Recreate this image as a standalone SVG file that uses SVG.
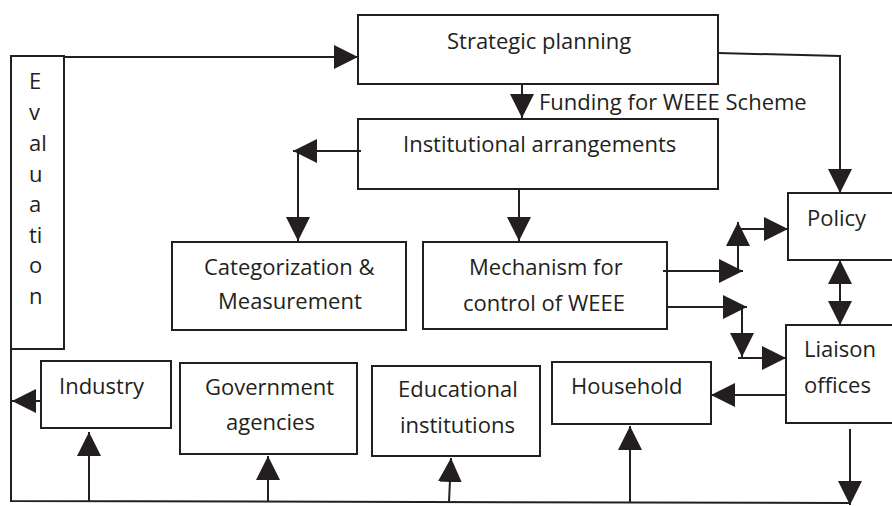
<svg xmlns="http://www.w3.org/2000/svg" width="892" height="506" viewBox="0 0 892 506">
  <style>
    .box { fill: #ffffff; stroke: #231f20; stroke-width: 2; }
    .lbl { font-family: "Open Sans", "Noto Sans", "Liberation Sans", sans-serif; font-size: 22px; fill: #231f20; }
    .wire { fill: none; stroke: #231f20; stroke-width: 2; }
  </style>
  <defs>
    <marker id="head" markerUnits="userSpaceOnUse" markerWidth="24" markerHeight="24" viewBox="0 0 22 22" refX="22" refY="11" orient="auto-start-reverse">
      <path d="M0,0 L22,11 L0,22 Z" fill="#231f20"/>
    </marker>
  </defs>
  <rect width="892" height="506" fill="#ffffff"/>

  <g id="evaluation">
    <rect class="box" x="11" y="56" width="53" height="293"/>
    <text class="lbl" x="29" y="89">E</text>
    <text class="lbl" x="29" y="120">v</text>
    <text class="lbl" x="29" y="151">al</text>
    <text class="lbl" x="29" y="182">u</text>
    <text class="lbl" x="29" y="212">a</text>
    <text class="lbl" x="29" y="243">ti</text>
    <text class="lbl" x="29" y="273">o</text>
    <text class="lbl" x="29" y="304">n</text>
  </g>

  <g id="strategic-planning">
    <rect class="box" x="358" y="15" width="360" height="69"/>
    <text class="lbl" x="447" y="49">Strategic planning</text>
  </g>

  <g id="institutional-arrangements">
    <rect class="box" x="358" y="119" width="360" height="70"/>
    <text class="lbl" x="403" y="152">Institutional arrangements</text>
  </g>

  <g id="categorization">
    <rect class="box" x="172" y="242" width="234" height="88"/>
    <text class="lbl" x="204" y="275">Categorization &amp;</text>
    <text class="lbl" x="218" y="309">Measurement</text>
  </g>

  <g id="mechanism">
    <rect class="box" x="423" y="242" width="244" height="87"/>
    <text class="lbl" x="469" y="275">Mechanism for</text>
    <text class="lbl" x="463" y="311">control of WEEE</text>
  </g>

  <g id="policy">
    <rect class="box" x="788" y="193" width="110" height="67"/>
    <text class="lbl" x="807" y="226">Policy</text>
  </g>

  <g id="liaison-offices">
    <rect class="box" x="786" y="325" width="112" height="98"/>
    <text class="lbl" x="804" y="357">Liaison</text>
    <text class="lbl" x="804" y="393">offices</text>
  </g>

  <g id="industry">
    <rect class="box" x="41" y="361" width="130" height="67"/>
    <text class="lbl" x="59" y="394">Industry</text>
  </g>

  <g id="government-agencies">
    <rect class="box" x="180" y="363" width="177" height="91"/>
    <text class="lbl" x="205" y="395">Government</text>
    <text class="lbl" x="226" y="430">agencies</text>
  </g>

  <g id="educational-institutions">
    <rect class="box" x="372" y="366" width="168" height="90"/>
    <text class="lbl" x="398" y="397">Educational</text>
    <text class="lbl" x="400" y="433">institutions</text>
  </g>

  <g id="household">
    <rect class="box" x="552" y="362" width="159" height="62"/>
    <text class="lbl" x="571" y="394">Household</text>
  </g>

  <text class="lbl" x="539" y="110">Funding for WEEE Scheme</text>

  <g id="connectors">
    <!-- evaluation feeds strategic planning -->
    <path class="wire" d="M64,57 H358" marker-end="url(#head)"/>
    <!-- funding -->
    <path class="wire" d="M522,84 V118" marker-end="url(#head)"/>
    <!-- institutional arrangements to categorization -->
    <path class="wire" d="M361,151 H293" marker-end="url(#head)"/>
    <path class="wire" d="M298,151 V241" marker-end="url(#head)"/>
    <!-- institutional arrangements to mechanism -->
    <path class="wire" d="M519,189 V241" marker-end="url(#head)"/>
    <!-- strategic planning to policy -->
    <path class="wire" d="M718,53 L840,56 V193" marker-end="url(#head)"/>
    <!-- mechanism to policy -->
    <path class="wire" d="M663,271 H743" marker-end="url(#head)"/>
    <path class="wire" d="M738,271 V222" marker-end="url(#head)"/>
    <path class="wire" d="M738,229 H788" marker-end="url(#head)"/>
    <!-- mechanism to liaison offices -->
    <path class="wire" d="M667,307 H747" marker-end="url(#head)"/>
    <path class="wire" d="M742,307 V357" marker-end="url(#head)"/>
    <path class="wire" d="M738,358 H786" marker-end="url(#head)"/>
    <!-- policy and liaison offices -->
    <path class="wire" d="M840,260 V325" marker-start="url(#head)" marker-end="url(#head)"/>
    <!-- liaison offices to household -->
    <path class="wire" d="M786,395 H711" marker-end="url(#head)"/>
    <!-- liaison offices down to the return line -->
    <path class="wire" d="M850,429 V505" marker-end="url(#head)"/>
    <!-- return line back to evaluation -->
    <path class="wire" d="M11,349 V501 L850,503"/>
    <!-- return line up to the stakeholders -->
    <path class="wire" d="M89,501 V432" marker-end="url(#head)"/>
    <path class="wire" d="M268,502 V456" marker-end="url(#head)"/>
    <path class="wire" d="M449,502 L451,458" marker-end="url(#head)"/>
    <path class="wire" d="M630,502 V426" marker-end="url(#head)"/>
    <!-- industry back to evaluation line -->
    <path class="wire" d="M41,401 H12" marker-end="url(#head)"/>
  </g>
</svg>
